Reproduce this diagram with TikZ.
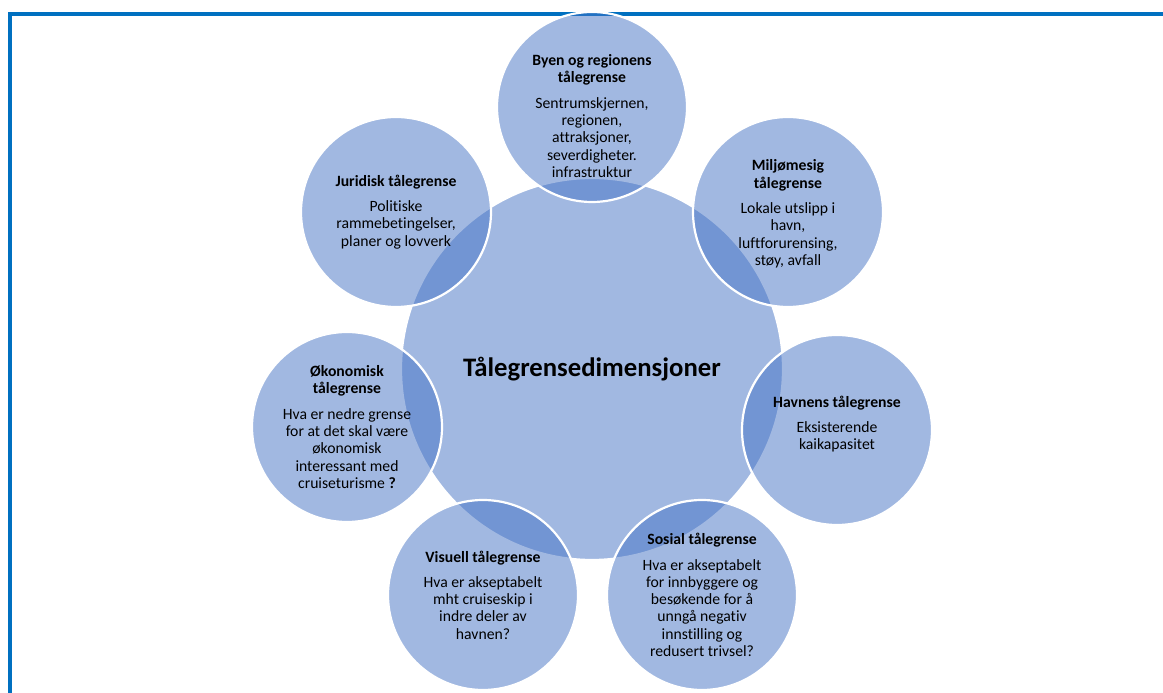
\documentclass[tikz,border=0pt]{standalone}
\usepackage{fontspec}
\setmainfont{Carlito}[Ligatures=NoCommon]
\usetikzlibrary{positioning}

\definecolor{rammeblaa}{RGB}{0,112,192}
\definecolor{sirkelblaa}{RGB}{68,114,196}

\begin{document}
\begin{tikzpicture}[
						x=1pt,
						y=1pt,
						ring/.style={circle, fill=sirkelblaa, fill opacity=0.5, draw=white, line width=2.2pt, inner sep=0pt, minimum size=190pt},
						hub/.style={ring, minimum size=382pt},
						tekst/.style={align=center, font=\fontsize{15.7}{17.3}\selectfont, inner sep=0pt},
						tittel/.style={font=\fontsize{26.7}{31}\selectfont\bfseries, inner sep=0pt}
					]
					\useasboundingbox (0,0) rectangle (1163,693);
					\begin{scope}
						\clip (0,0) rectangle (1163,693);
						\draw[rammeblaa, line width=4pt] (10,-20) |- (1190,679);
					\end{scope}
					\node[hub] (dim) at (592,324) {};
					\node[ring] (byen) at (592,586) {};
					\node[ring] (juridisk) at (396,481) {};
					\node[ring] (miljo) at (788,481) {};
					\node[ring] (havn) at (837,263) {};
					\node[ring] (okonomi) at (347,266) {};
					\node[ring] (sosial) at (702,98) {};
					\node[ring] (visuell) at (483,98) {};
					\node[tittel] (dimtekst) at (dim) {Tålegrensedimensjoner};
					\node[tekst] (byentekst) at ([yshift=-9pt]byen.center) {
						\textbf{Byen og regionens}\\
						\textbf{tålegrense}\\[8pt]
						Sentrumskjernen,\\
						regionen,\\
						attraksjoner,\\
						severdigheter.\\
						infrastruktur
					};
					\node[tekst] (juridisktekst) at (juridisk) {
						\textbf{Juridisk tålegrense}\\[8pt]
						Politiske\\
						rammebetingelser,\\
						planer og lovverk
					};
					\node[tekst] (miljotekst) at ([yshift=-2pt]miljo.center) {
						\textbf{Miljømesig}\\
						\textbf{tålegrense}\\[8pt]
						Lokale utslipp i\\
						havn,\\
						luftforurensing,\\
						støy, avfall
					};
					\node[tekst] (havntekst) at ([yshift=6pt]havn.center) {
						\textbf{Havnens tålegrense}\\[8pt]
						Eksisterende\\
						kaikapasitet
					};
					\node[tekst] (okonomitekst) at (okonomi) {
						\textbf{Økonomisk}\\
						\textbf{tålegrense}\\[8pt]
						Hva er nedre grense\\
						for at det skal være\\
						økonomisk\\
						interessant med\\
						cruiseturisme \textbf{?}
					};
					\node[tekst] (sosialtekst) at (sosial) {
						\textbf{Sosial tålegrense}\\[8pt]
						Hva er akseptabelt\\
						for innbyggere og\\
						besøkende for å\\
						unngå negativ\\
						innstilling og\\
						redusert trivsel?
					};
					\node[tekst] (visuelltekst) at (visuell) {
						\textbf{Visuell tålegrense}\\[8pt]
						Hva er akseptabelt\\
						mht cruiseskip i\\
						indre deler av\\
						havnen?
					};
				\end{tikzpicture}
\end{document}
